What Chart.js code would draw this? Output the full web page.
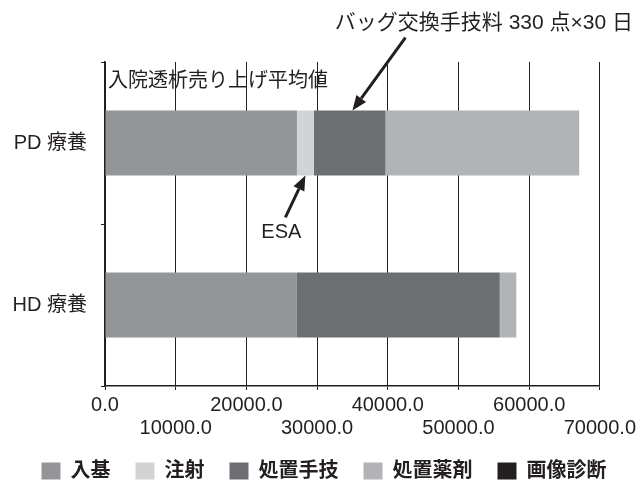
<!DOCTYPE html>
<html>
<head>
<meta charset="utf-8">
<script src="https://cdn.jsdelivr.net/npm/chart.js@4.4.1/dist/chart.umd.min.js"></script>
<style>
  html, body { margin: 0; padding: 0; background: #fff; }
  #wrap { width: 640px; height: 481px; position: relative; }
</style>
</head>
<body>
<div id="wrap"><canvas id="chart"></canvas></div>
<script>
// data
const categories = ["PD 療養", "HD 療養"];
const seriesNames = ["入基", "注射", "処置手技", "処置薬剤", "画像診断"];
const nyuki = [27150, 27150];
const chusha = [2390, 0];
const shochiShugi = [10140, 28690];
const shochiYakuzai = [27400, 2340];
const gazoShindan = [0, 0];
const seriesColors = ["#939598", "#d1d3d4", "#6d6e71", "#b1b3b6", "#231f20"];
const xTicks = [0, 10000, 20000, 30000, 40000, 50000, 60000, 70000];

const chartTitle = "入院透析売り上げ平均値";
const bagNote = "バッグ交換手技料 330 点×30 日";
const esaNote = "ESA";

const FONT = '"Liberation Sans", "Noto Sans CJK JP", sans-serif';
const INK = "#231f20";

function arrow(ctx, x1, y1, x2, y2) {
  const ang = Math.atan2(y2 - y1, x2 - x1);
  const head = 15;
  const hx = x2 - head * Math.cos(ang);
  const hy = y2 - head * Math.sin(ang);
  ctx.beginPath();
  ctx.moveTo(x1, y1);
  ctx.lineTo(hx, hy);
  ctx.stroke();
  ctx.beginPath();
  ctx.moveTo(x2, y2);
  ctx.lineTo(hx + 6 * Math.sin(ang), hy - 6 * Math.cos(ang));
  ctx.lineTo(hx - 6 * Math.sin(ang), hy + 6 * Math.cos(ang));
  ctx.closePath();
  ctx.fill();
}

const notes = {
  id: "notes",
  afterDraw(chart) {
    const { ctx, chartArea } = chart;
    const x = chart.scales.x;
    ctx.save();
    ctx.fillStyle = INK;
    ctx.strokeStyle = INK;
    ctx.lineWidth = 3;
    ctx.textBaseline = "middle";

    ctx.font = "20px " + FONT;
    ctx.textAlign = "left";
    ctx.fillText(chartTitle, chartArea.left + 3, chartArea.top + 19);

    ctx.font = "21px " + FONT;
    ctx.textAlign = "right";
    ctx.fillText(bagNote, chart.width - 7, 23);

    // arrow to the 処置手技 part of the PD bar
    const pdShugi = chart.getDatasetMeta(2).data[0];
    const tipX = x.getPixelForValue(35000);
    const tipY = pdShugi.y - pdShugi.height / 2;
    arrow(ctx, tipX + 53, tipY - 73, tipX, tipY);

    // arrow to the 注射 (ESA) part of the PD bar
    const pdEsa = chart.getDatasetMeta(1).data[0];
    const esaX = (pdEsa.x + pdEsa.base) / 2;
    const esaY = pdEsa.y + pdEsa.height / 2;
    arrow(ctx, esaX - 20, esaY + 42, esaX, esaY);
    ctx.font = "20px " + FONT;
    ctx.textAlign = "center";
    ctx.fillText(esaNote, esaX - 24, esaY + 57);
    ctx.restore();
  }
};

const seriesData = [nyuki, chusha, shochiShugi, shochiYakuzai, gazoShindan];

new Chart(document.getElementById("chart"), {
  type: "bar",
  data: {
    labels: categories,
    datasets: seriesNames.map((name, i) => ({
      label: name,
      data: seriesData[i],
      backgroundColor: seriesColors[i],
      borderWidth: 0,
      barPercentage: 0.4,
      categoryPercentage: 1.0,
    })),
  },
  options: {
    indexAxis: "y",
    responsive: true,
    maintainAspectRatio: false,
    animation: false,
    layout: { padding: { top: 62, left: 0, right: -8, bottom: -10 } },
    plugins: {
      title: { display: false },
      tooltip: { enabled: false },
      legend: {
        position: "bottom",
        labels: {
          boxWidth: 19,
          boxHeight: 17,
          padding: 25,
          color: INK,
          font: { family: FONT, size: 20, weight: "bold" },
        },
      },
    },
    scales: {
      x: {
        stacked: true,
        min: 0,
        max: 70000,
        afterBuildTicks: (s) => { s.ticks = xTicks.map((v) => ({ value: v })); },
        afterFit: (s) => { s.height = 50; },
        grid: { color: INK, lineWidth: 1, tickLength: 4 },
        border: { color: INK, width: 1.5 },
        ticks: {
          autoSkip: false,
          maxRotation: 0,
          minRotation: 0,
          padding: 4,
          color: INK,
          font: { family: FONT, size: 20, lineHeight: 1.15 },
          callback: (v, i) => (i % 2 === 0 ? [v.toFixed(1), ""] : ["", v.toFixed(1)]),
        },
      },
      y: {
        stacked: true,
        afterFit: (s) => { s.width = 105; },
        grid: { drawOnChartArea: false, color: INK, tickLength: 4 },
        border: { color: INK, width: 1.5 },
        ticks: {
          padding: 14,
          color: INK,
          font: { family: FONT, size: 20 },
        },
      },
    },
  },
  plugins: [notes],
});
</script>
</body>
</html>
